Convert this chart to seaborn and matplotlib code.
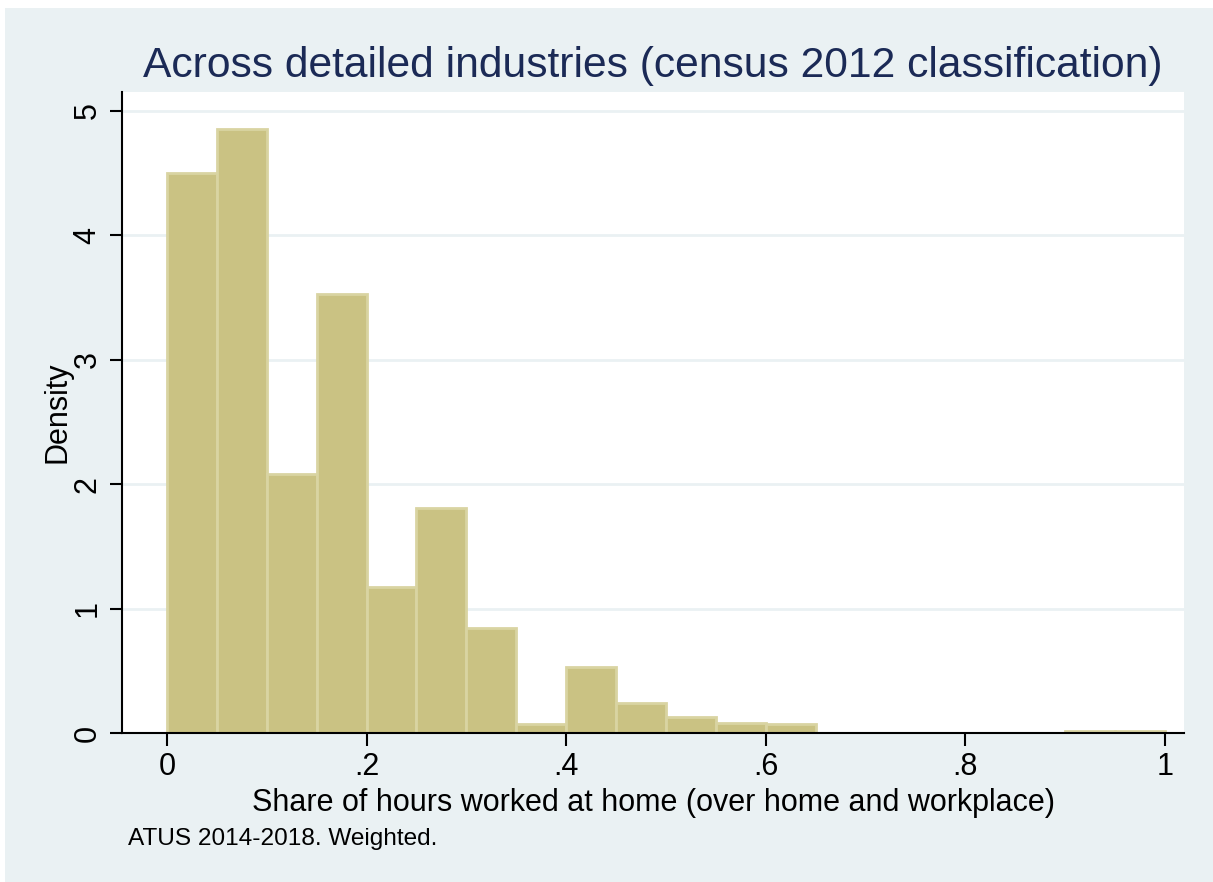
import matplotlib
matplotlib.use("Agg")
import matplotlib.pyplot as plt
import seaborn as sns
from matplotlib.patches import Rectangle

# histogram of share of hours worked at home, density per 0.05 bin
bin_width = 0.05
bin_starts = [0.00, 0.05, 0.10, 0.15, 0.20, 0.25, 0.30, 0.35, 0.40, 0.45,
              0.50, 0.55, 0.60, 0.65, 0.70, 0.75, 0.80, 0.85, 0.90, 0.95]
density = [4.50, 4.85, 2.08, 3.53, 1.17, 1.81, 0.84, 0.07, 0.53, 0.24,
           0.13, 0.08, 0.07, 0.0, 0.0, 0.0, 0.0, 0.0, 0.02, 0.02]

x_ticks = [0, 0.2, 0.4, 0.6, 0.8, 1.0]
x_ticklabels = ["0", ".2", ".4", ".6", ".8", "1"]
y_ticks = [0, 1, 2, 3, 4, 5]

bg = "#EAF1F3"
fill = "#CAC283"
edge = "#D9D4A2"
title_col = "#1B2A56"

sns.set_style("white")
plt.rcParams["font.family"] = ["Liberation Sans", "DejaVu Sans"]
plt.rcParams["text.color"] = "black"
plt.rcParams["axes.labelcolor"] = "black"
plt.rcParams["xtick.color"] = "black"
plt.rcParams["ytick.color"] = "black"

W, H = 1213, 882
fig = plt.figure(figsize=(W / 100, H / 100), dpi=100)
fig.patch.set_facecolor("white")
fig.patches.append(Rectangle((5 / W, 0), 1, (H - 8) / H, transform=fig.transFigure,
                             facecolor=bg, edgecolor="none", zorder=-10))

ax = fig.add_axes([122 / W, 1 - 733 / H, (1184 - 122) / W, (733 - 92) / H])
ax.set_facecolor("white")

centers = [s + bin_width / 2 for s in bin_starts]
edges = bin_starts + [bin_starts[-1] + bin_width]
sns.histplot(x=centers, weights=density, bins=edges, stat="count",
             color=fill, edgecolor=edge, linewidth=2, alpha=1, ax=ax)

ax.set_xlim(-0.045, 1.019)
ax.set_ylim(0, 5.15)
ax.set_axisbelow(True)
ax.yaxis.grid(True, color=bg, linewidth=2)
ax.xaxis.grid(False)

ax.set_xticks(x_ticks)
ax.set_xticklabels(x_ticklabels)
ax.set_yticks(y_ticks)
ax.set_yticklabels([str(v) for v in y_ticks], rotation=90, va="center")
ax.tick_params(axis="both", direction="out", length=9, width=1.5, color="black",
               labelsize=22, left=True, bottom=True)
ax.tick_params(axis="x", pad=5)
ax.tick_params(axis="y", pad=5)

for s in ["top", "right"]:
    ax.spines[s].set_visible(False)
for s in ["left", "bottom"]:
    ax.spines[s].set_color("black")
    ax.spines[s].set_linewidth(1.5)

ax.set_xlabel("Share of hours worked at home (over home and workplace)", fontsize=22, labelpad=4)
ax.set_ylabel("Density", fontsize=22, labelpad=0)
ax.set_title("Across detailed industries (census 2012 classification)",
             fontsize=30.7, color=title_col, pad=11)

fig.text(128 / W, 1 - 839 / H, "ATUS 2014-2018. Weighted.", fontsize=17.6, va="center", ha="left")

fig.savefig("out.png", dpi=100)
